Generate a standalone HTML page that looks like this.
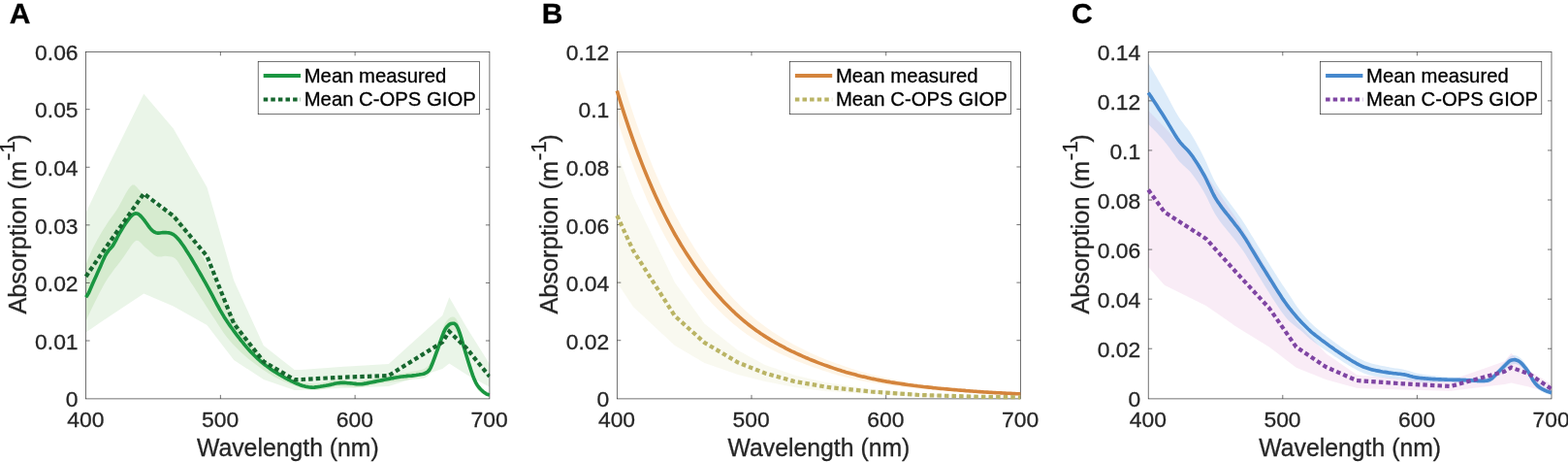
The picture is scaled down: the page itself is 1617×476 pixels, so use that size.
<!DOCTYPE html>
<html lang="en">
<head>
<meta charset="utf-8">
<title>Absorption spectra</title>
<style>
html,body{margin:0;padding:0;background:#fff;}
body{width:1617px;height:476px;overflow:hidden;}
svg{display:block;}
text{font-family:"Liberation Sans","DejaVu Sans",sans-serif;}
.t{font-size:22.9px;fill:#262626;stroke:#262626;stroke-width:0.3px;}
.l{font-size:24.8px;fill:#262626;stroke:#262626;stroke-width:0.3px;}
.s{font-size:22px;}
.g{font-size:20.3px;fill:#000;stroke:#000;stroke-width:0.3px;}
.p{font-size:30px;font-weight:bold;fill:#000;stroke:#000;stroke-width:0.3px;}
</style>
</head>
<body>
<svg width="1617" height="476" viewBox="0 0 1617 476">
<rect width="1617" height="476" fill="#fff"/>
<defs>
<clipPath id="cp0"><rect x="88.6" y="53.4" width="416.30" height="357.5"/></clipPath>
<clipPath id="cl0"><rect x="82.6" y="47.4" width="422.70" height="369.5"/></clipPath>
<clipPath id="cp1"><rect x="636.3" y="53.4" width="416.10" height="357.5"/></clipPath>
<clipPath id="cl1"><rect x="630.3" y="47.4" width="422.50" height="369.5"/></clipPath>
<clipPath id="cp2"><rect x="1184.2" y="53.4" width="415.80" height="357.5"/></clipPath>
<clipPath id="cl2"><rect x="1178.2" y="47.4" width="422.20" height="369.5"/></clipPath>
</defs>
<g><g clip-path="url(#cp0)"><polygon points="88.6,219 105.3,184 148.3,96.8 178.8,132.5 213.5,193 241.2,289 271.8,356 303.7,381 310.6,381 350.9,378 400.8,375 456.3,325 463.3,306.2 481.3,337.5 504.9,375 504.9,398.8 481.3,386 463.3,374.5 456.3,380 400.8,398 350.9,400 310.6,402 303.7,402 271.8,391 241.2,371 213.5,335 178.8,315.5 148.3,302.5 105.3,331 88.6,342.5" fill="rgba(150,205,140,0.2)"/>
<polygon points="88.5,273 90.5,267.8 92.5,262.9 94.5,258.3 96.5,254.2 98.5,250.4 100.5,246.7 102.5,243.2 104.5,239.8 106.5,236.6 108.5,233.4 110.5,230.3 112.5,227.3 114.5,224.4 116.5,221.7 118.5,218.9 120.5,216 122.5,212.7 124.5,209 126.5,205.2 128.5,201.6 130.5,198.1 132.5,194.8 134.5,192.2 136.5,190.6 138.5,190.6 140.5,192.2 142.5,194.4 144.5,196.8 146.5,199.4 148.5,201.9 150.5,204 152.5,205.7 154.5,207.2 156.5,208.6 158.5,210 160.5,211.2 162.5,212.5 164.5,213.7 166.5,214.8 168.5,215.7 170.5,216.5 172.5,217.1 174.5,217.8 176.5,218.7 178.5,219.7 180.5,221 182.5,222.7 184.5,224.8 186.5,227.2 188.5,229.9 190.5,232.8 192.5,235.9 194.5,239.2 196.5,242.5 198.5,245.9 200.5,249.3 202.5,252.7 204.5,256.2 206.5,259.8 208.5,263.4 210.5,267.2 212.5,271 214.5,275 216.5,279.1 218.5,283.3 220.5,287.5 222.5,291.8 224.5,296 226.5,300 228.5,304 230.5,307.8 232.5,311.5 234.5,315.1 236.5,318.7 238.5,322.2 240.5,325.7 242.5,329.1 244.5,332.5 246.5,335.9 248.5,339.2 250.5,342.4 252.5,345.5 254.5,348.5 256.5,351.4 258.5,354.2 260.5,356.9 262.5,359.4 264.5,361.8 266.5,364 268.5,366.1 270.5,368.1 272.5,369.9 274.5,371.7 276.5,373.3 278.5,374.9 280.5,376.5 282.5,378 284.5,379.5 286.5,380.9 288.5,382.3 290.5,383.6 292.5,384.9 294.5,386.1 296.5,387.2 298.5,388.3 300.5,389.2 302.5,390.2 304.5,391 306.5,391.8 308.5,392.5 310.5,393.2 312.5,393.8 314.5,394.3 316.5,394.7 318.5,395 320.5,395.3 322.5,395.4 324.5,395.5 326.5,395.5 328.5,395.3 330.5,395 332.5,394.6 334.5,394.1 336.5,393.6 338.5,393 340.5,392.5 342.5,392 344.5,391.6 346.5,391.3 348.5,391.1 350.5,391 352.5,391.1 354.5,391.3 356.5,391.5 358.5,391.9 360.5,392.2 362.5,392.5 364.5,392.7 366.5,392.8 368.5,392.7 370.5,392.4 372.5,392.1 374.5,391.7 376.5,391.4 378.5,391 380.5,390.6 382.5,390.2 384.5,389.9 386.5,389.5 388.5,389.1 390.5,388.7 392.5,388.3 394.5,388 396.5,387.6 398.5,387.2 400.5,386.9 402.5,386.6 404.5,386.3 406.5,386 408.5,385.6 410.5,385.3 412.5,385 414.5,384.7 416.5,384.4 418.5,384 420.5,383.7 422.5,383.4 424.5,383.1 426.5,382.7 428.5,382.4 430.5,382 432.5,381.5 434.5,381.1 436.5,380.6 438.5,379.6 440.5,378 442.5,375.6 444.5,371.7 446.5,366.7 448.5,361.3 450.5,355.8 452.5,350.2 454.5,344.5 456.5,338.9 458.5,334 460.5,330.8 462.5,328.5 464.5,327 466.5,326.5 468.5,326.7 470.5,328.5 472.5,332.5 474.5,338.1 476.5,344.8 478.5,351.9 480.5,358.9 482.5,365.7 484.5,372.2 486.5,378.5 488.5,384.4 490.5,389.5 492.5,393.4 494.5,396.5 496.5,399 498.5,401.2 500.5,402.9 502.5,404.2 504.5,404.9 504.8,405 504.8,409 504.5,409 502.5,408.5 500.5,407.6 498.5,406.4 496.5,405 494.5,403.4 492.5,401.4 490.5,398.6 488.5,394.5 486.5,389.4 484.5,383.7 482.5,377.5 480.5,371.1 478.5,364.3 476.5,357.6 474.5,351.2 472.5,345.9 470.5,342 468.5,340.3 466.5,340 464.5,340.3 462.5,341.5 460.5,343.6 458.5,346.6 456.5,351.3 454.5,356.8 452.5,362.4 450.5,367.8 448.5,373.1 446.5,378.2 444.5,382.9 442.5,386 440.5,387.7 438.5,388.9 436.5,389.7 434.5,390.1 432.5,390.2 430.5,390.4 428.5,390.6 426.5,390.8 424.5,391.1 422.5,391.3 420.5,391.5 418.5,391.8 416.5,392 414.5,392.2 412.5,392.5 410.5,392.7 408.5,393 406.5,393.2 404.5,393.4 402.5,393.7 400.5,393.9 398.5,394.2 396.5,394.5 394.5,394.8 392.5,395.1 390.5,395.5 388.5,395.8 386.5,396.2 384.5,396.6 382.5,397 380.5,397.3 378.5,397.7 376.5,398 374.5,398.4 372.5,398.7 370.5,398.9 368.5,399.1 366.5,399.2 364.5,399.2 362.5,399 360.5,398.8 358.5,398.6 356.5,398.4 354.5,398.2 352.5,398 350.5,398 348.5,398.1 346.5,398.3 344.5,398.6 342.5,399 340.5,399.5 338.5,399.9 336.5,400.4 334.5,400.9 332.5,401.3 330.5,401.6 328.5,401.9 326.5,402 324.5,402 322.5,401.8 320.5,401.6 318.5,401.3 316.5,401 314.5,400.6 312.5,400.1 310.5,399.5 308.5,399 306.5,398.3 304.5,397.6 302.5,396.9 300.5,396.2 298.5,395.4 296.5,394.6 294.5,393.8 292.5,393 290.5,392.1 288.5,391.1 286.5,390.1 284.5,389.1 282.5,388 280.5,386.8 278.5,385.6 276.5,384.4 274.5,383.1 272.5,381.8 270.5,380.4 268.5,379 266.5,377.6 264.5,376.1 262.5,374.6 260.5,373.1 258.5,371.5 256.5,369.9 254.5,368.2 252.5,366.5 250.5,364.7 248.5,362.9 246.5,361 244.5,359 242.5,357 240.5,354.9 238.5,352.7 236.5,350.4 234.5,348 232.5,345.4 230.5,342.7 228.5,339.8 226.5,336.7 224.5,333.7 222.5,330.6 220.5,327.6 218.5,324.5 216.5,321.4 214.5,318.3 212.5,315.2 210.5,312.1 208.5,309 206.5,305.9 204.5,302.8 202.5,299.7 200.5,296.6 198.5,293.5 196.5,290.4 194.5,287.3 192.5,284.2 190.5,281 188.5,277.8 186.5,274.5 184.5,271.3 182.5,268.3 180.5,266.2 178.5,265.1 176.5,264.5 174.5,264.3 172.5,263.9 170.5,263.8 168.5,264.1 166.5,264.4 164.5,264.6 162.5,264.5 160.5,263.8 158.5,262.4 156.5,260.8 154.5,259 152.5,257.1 150.5,255.4 148.5,253.7 146.5,251.5 144.5,249.5 142.5,248.1 140.5,247.8 138.5,249.3 136.5,251.6 134.5,254.2 132.5,257.2 130.5,260.2 128.5,263.2 126.5,266.1 124.5,268.8 122.5,271.4 120.5,274 118.5,276.6 116.5,279.2 114.5,281.9 112.5,284.7 110.5,287.7 108.5,291.1 106.5,294.6 104.5,298.3 102.5,302.1 100.5,306 98.5,309.9 96.5,313.9 94.5,318.1 92.5,322.3 90.5,326.6 88.5,331" fill="rgba(134,195,112,0.2)"/></g>
<rect x="88.6" y="53.4" width="416.30" height="357.5" fill="none" stroke="#262626" stroke-width="0.65"/>
<text transform="translate(80.60 419.40) scale(1 0.99)" text-anchor="end" class="t">0</text>
<text transform="translate(80.60 359.82) scale(1 0.99)" text-anchor="end" class="t">0.01</text>
<text transform="translate(80.60 300.23) scale(1 0.99)" text-anchor="end" class="t">0.02</text>
<text transform="translate(80.60 240.65) scale(1 0.99)" text-anchor="end" class="t">0.03</text>
<text transform="translate(80.60 181.07) scale(1 0.99)" text-anchor="end" class="t">0.04</text>
<text transform="translate(80.60 121.48) scale(1 0.99)" text-anchor="end" class="t">0.05</text>
<text transform="translate(80.60 61.90) scale(1 0.99)" text-anchor="end" class="t">0.06</text>
<path d="M227.37 410.9v-4.0M227.37 53.4v4.0M366.13 410.9v-4.0M366.13 53.4v4.0M88.6 351.02h4.0M504.9 351.02h-4.0M88.6 291.43h4.0M504.9 291.43h-4.0M88.6 231.85h4.0M504.9 231.85h-4.0M88.6 172.27h4.0M504.9 172.27h-4.0M88.6 112.68h4.0M504.9 112.68h-4.0" stroke="#262626" stroke-width="0.65" fill="none"/>
<g clip-path="url(#cl0)"><path d="M88.6 306.2L90.1 304.1L91.6 301.5L93.1 298.1L94.6 294.5L96.1 291L97.6 287.7L99.1 284.4L100.6 281.1L102.1 277.8L103.6 274.4L105.1 270.9L106.6 267.4L108.1 264.2L109.6 261.5L111.1 259.4L112.6 257.3L114.1 255.7L115.6 254.1L117.1 251.9L118.6 249.2L120.1 246.3L121.6 243.3L123.1 240.5L124.6 238L126.1 235.5L127.6 233.1L129.1 230.7L130.6 228.6L132.1 226.6L133.6 224.7L135.1 222.9L136.6 221.5L138.1 220.4L139.6 219.9L141.1 220L142.6 220.5L144.1 221.6L145.6 223.1L147.1 224.8L148.6 226.6L150.1 228.7L151.6 230.8L153.1 232.9L154.6 234.9L156.1 236.6L157.6 238L159.1 239L160.6 239.7L162.1 240.1L163.6 240.1L165.1 240L166.6 239.8L168.1 239.6L169.6 239.5L171.1 239.6L172.6 239.7L174.1 239.9L175.6 240.2L177.1 240.8L178.6 241.5L180.1 242.6L181.6 243.9L183.1 245.5L184.6 247.2L186.1 249.1L187.6 251.2L189.1 253.3L190.6 255.6L192.1 257.9L193.6 260.2L195.1 262.6L196.6 265L198.1 267.5L199.6 270.1L201.1 272.6L202.6 275.2L204.1 277.8L205.6 280.4L207.1 283L208.6 285.6L210.1 288.3L211.6 290.9L213.1 293.6L214.6 296.3L216.1 299.1L217.6 301.9L219.1 304.7L220.6 307.6L222.1 310.5L223.6 313.3L225.1 316L226.6 318.8L228.1 321.4L229.6 323.9L231.1 326.4L232.6 328.7L234.1 331L235.6 333.2L237.1 335.4L238.6 337.5L240.1 339.5L241.6 341.6L243.1 343.6L244.6 345.6L246.1 347.5L247.6 349.5L249.1 351.4L250.6 353.2L252.1 355.1L253.6 356.8L255.1 358.6L256.6 360.3L258.1 361.9L259.6 363.5L261.1 365L262.6 366.5L264.1 367.9L265.6 369.3L267.1 370.7L268.6 372L270.1 373.3L271.6 374.5L273.1 375.7L274.6 376.9L276.1 378L277.6 379.1L279.1 380.2L280.6 381.2L282.1 382.2L283.6 383.1L285.1 384.1L286.6 385L288.1 385.9L289.6 386.8L291.1 387.7L292.6 388.5L294.1 389.4L295.6 390.2L297.1 391L298.6 391.7L300.1 392.5L301.6 393.2L303.1 393.9L304.6 394.6L306.1 395.2L307.6 395.8L309.1 396.4L310.6 396.9L312.1 397.4L313.6 397.8L315.1 398.2L316.6 398.5L318.1 398.8L319.6 399L321.1 399.1L322.6 399.2L324.1 399.1L325.6 398.9L327.1 398.7L328.6 398.5L330.1 398.3L331.6 398L333.1 397.8L334.6 397.5L336.1 397.3L337.6 397L339.1 396.7L340.6 396.4L342.1 396L343.6 395.7L345.1 395.3L346.6 395L348.1 394.8L349.6 394.6L351.1 394.4L352.6 394.4L354.1 394.4L355.6 394.4L357.1 394.5L358.6 394.7L360.1 394.8L361.6 394.9L363.1 395L364.6 395.2L366.1 395.4L367.6 395.6L369.1 395.7L370.6 395.7L372.1 395.7L373.6 395.6L375.1 395.4L376.6 395.1L378.1 394.9L379.6 394.6L381.1 394.3L382.6 394L384.1 393.7L385.6 393.4L387.1 393.1L388.6 392.8L390.1 392.5L391.6 392.2L393.1 391.9L394.6 391.6L396.1 391.3L397.6 391L399.1 390.7L400.6 390.4L402.1 390.1L403.6 389.8L405.1 389.6L406.6 389.3L408.1 389L409.6 388.7L411.1 388.5L412.6 388.2L414.1 388L415.6 387.9L417.1 387.7L418.6 387.6L420.1 387.4L421.6 387.3L423.1 387.2L424.6 387.1L426.1 386.9L427.6 386.7L429.1 386.5L430.6 386.2L432.1 386L433.6 385.7L435.1 385.5L436.6 385.2L438.1 384.7L439.6 383.9L441.1 382.9L442.6 381.4L444.1 378.8L445.6 375.3L447.1 371.3L448.6 367.3L450.1 363.2L451.6 359.1L453.1 354.9L454.6 350.6L456.1 346.4L457.6 342.4L459.1 339.3L460.6 337.1L462.1 335.5L463.6 334.2L465.1 333.5L466.6 333.2L468.1 333.2L469.6 334L471.1 335.9L472.6 339.1L474.1 343.1L475.6 347.8L477.1 352.9L478.6 358.1L480.1 363.3L481.6 368.3L483.1 373.2L484.6 377.9L486.1 382.5L487.6 386.8L489.1 390.8L490.6 394.1L492.1 396.7L493.6 398.8L495.1 400.5L496.6 402L498.1 403.4L499.6 404.6L501.1 405.6L502.6 406.3L504.1 406.8L504.9 407" fill="none" stroke="#1a9641" stroke-width="3.65" stroke-linejoin="round"/>
<path d="M88.6 285L105.3 260.5L148.3 199.5L178.8 222.5L213.5 264L241.2 333.5L271.8 372.5L303.7 391.2L310.6 391L350.9 388.8L400.8 387L456.3 352.5L463.3 341.5L481.3 359L504.9 388" fill="none" stroke="#17672f" stroke-width="4.2" stroke-dasharray="4.5 3.1" stroke-linejoin="miter"/></g>
<text transform="translate(88.30 439.7) scale(1 0.99)" text-anchor="middle" class="t">400</text>
<text transform="translate(227.07 439.7) scale(1 0.99)" text-anchor="middle" class="t">500</text>
<text transform="translate(365.83 439.7) scale(1 0.99)" text-anchor="middle" class="t">600</text>
<text transform="translate(504.60 439.7) scale(1 0.99)" text-anchor="middle" class="t">700</text>
<text transform="translate(296.85 470.0) scale(1 1.07)" text-anchor="middle" class="l">Wavelength (nm)</text>
<text transform="translate(27.00 323.6) rotate(-90) scale(1.022 1.04)" class="l">Absorption (m<tspan class="s" dy="-11.6" dx="0.6">-<tspan dx="0.2">1</tspan></tspan><tspan dy="11.6" dx="-1.6">)</tspan></text>
<text x="9.7" y="24.1" class="p">A</text>
<rect x="266.2" y="63.3" width="228.2" height="54.4" fill="#fff" stroke="#262626" stroke-width="0.65"/>
<path d="M271.7 78H310.0" stroke="#1a9641" stroke-width="3.8" fill="none"/>
<path d="M271.7 102.5H310.0" stroke="#17672f" stroke-width="4.2" stroke-dasharray="4.5 3.1" fill="none"/>
<text transform="translate(313.70 84.6) scale(1 1.03)" class="g">Mean measured</text>
<text transform="translate(313.70 109.3) scale(1 1.03)" class="g">Mean C-OPS GIOP</text></g>
<g><g clip-path="url(#cp1)"><polygon points="636.3,157 652.9,202 695.9,291 726.5,333.5 761.1,361 788.9,376 819.4,386.5 851.3,394 858.2,395 898.4,401 948.4,405.5 1003.9,408 1010.8,408.2 1028.8,408.5 1052.4,408.8 1052.4,409.8 1028.8,409.6 1010.8,409.4 1003.9,409.3 948.4,408.5 898.4,406 858.2,403.5 851.3,403 819.4,399 788.9,393 761.1,386 726.5,374 695.9,356 652.9,316 636.3,291" fill="rgba(190,190,90,0.09)"/>
<polygon points="636.5,63.3 638.5,70.4 640.5,77.2 642.5,84 644.5,90.6 646.5,97 648.5,103.3 650.5,109.5 652.5,115.6 654.5,121.5 656.5,127.4 658.5,133.1 660.5,138.7 662.5,144.1 664.5,149.5 666.5,154.8 668.5,159.9 670.5,164.9 672.5,169.9 674.5,174.7 676.5,179.4 678.5,184.1 680.5,188.6 682.5,193.1 684.5,197.4 686.5,201.7 688.5,205.9 690.5,210 692.5,214 694.5,217.9 696.5,221.7 698.5,225.4 700.5,229.1 702.5,232.7 704.5,236.2 706.5,239.6 708.5,243 710.5,246.3 712.5,249.6 714.5,252.8 716.5,255.9 718.5,259 720.5,262.1 722.5,265.1 724.5,268 726.5,270.9 728.5,273.7 730.5,276.5 732.5,279.2 734.5,281.9 736.5,284.5 738.5,287.1 740.5,289.6 742.5,292 744.5,294.4 746.5,296.8 748.5,299.1 750.5,301.4 752.5,303.6 754.5,305.8 756.5,307.9 758.5,310 760.5,312 762.5,314 764.5,316 766.5,317.9 768.5,319.8 770.5,321.6 772.5,323.4 774.5,325.1 776.5,326.8 778.5,328.4 780.5,330 782.5,331.6 784.5,333.1 786.5,334.6 788.5,336.1 790.5,337.6 792.5,339 794.5,340.3 796.5,341.7 798.5,343 800.5,344.3 802.5,345.6 804.5,346.8 806.5,348.1 808.5,349.3 810.5,350.4 812.5,351.6 814.5,352.7 816.5,353.8 818.5,354.9 820.5,356 822.5,357 824.5,358.1 826.5,359.1 828.5,360.1 830.5,361 832.5,362 834.5,363 836.5,363.9 838.5,364.8 840.5,365.7 842.5,366.6 844.5,367.4 846.5,368.3 848.5,369.1 850.5,369.9 852.5,370.7 854.5,371.4 856.5,372.2 858.5,372.9 860.5,373.7 862.5,374.4 864.5,375.1 866.5,375.8 868.5,376.5 870.5,377.2 872.5,377.9 874.5,378.6 876.5,379.2 878.5,379.9 880.5,380.5 882.5,381.2 884.5,381.8 886.5,382.4 888.5,383 890.5,383.6 892.5,384.1 894.5,384.7 896.5,385.2 898.5,385.8 900.5,386.3 902.5,386.8 904.5,387.3 906.5,387.7 908.5,388.2 910.5,388.6 912.5,389.1 914.5,389.5 916.5,389.9 918.5,390.3 920.5,390.7 922.5,391.1 924.5,391.5 926.5,391.9 928.5,392.2 930.5,392.6 932.5,392.9 934.5,393.3 936.5,393.6 938.5,393.9 940.5,394.2 942.5,394.5 944.5,394.8 946.5,395.1 948.5,395.4 950.5,395.7 952.5,396 954.5,396.3 956.5,396.5 958.5,396.8 960.5,397 962.5,397.3 964.5,397.5 966.5,397.8 968.5,398 970.5,398.2 972.5,398.5 974.5,398.7 976.5,398.9 978.5,399.1 980.5,399.4 982.5,399.6 984.5,399.8 986.5,400 988.5,400.2 990.5,400.4 992.5,400.6 994.5,400.7 996.5,400.9 998.5,401.1 1000.5,401.3 1002.5,401.5 1004.5,401.6 1006.5,401.8 1008.5,402 1010.5,402.1 1012.5,402.3 1014.5,402.4 1016.5,402.6 1018.5,402.7 1020.5,402.9 1022.5,403 1024.5,403.2 1026.5,403.3 1028.5,403.4 1030.5,403.6 1032.5,403.7 1034.5,403.8 1036.5,404 1038.5,404.1 1040.5,404.2 1042.5,404.3 1044.5,404.4 1046.5,404.6 1048.5,404.7 1050.5,404.8 1052.5,404.9 1052.6,404.9 1052.6,406.9 1052.5,406.9 1050.5,406.8 1048.5,406.8 1046.5,406.7 1044.5,406.6 1042.5,406.5 1040.5,406.4 1038.5,406.4 1036.5,406.3 1034.5,406.2 1032.5,406.1 1030.5,406 1028.5,405.9 1026.5,405.8 1024.5,405.7 1022.5,405.7 1020.5,405.6 1018.5,405.5 1016.5,405.4 1014.5,405.3 1012.5,405.2 1010.5,405.1 1008.5,404.9 1006.5,404.8 1004.5,404.7 1002.5,404.6 1000.5,404.5 998.5,404.4 996.5,404.3 994.5,404.1 992.5,404 990.5,403.9 988.5,403.7 986.5,403.6 984.5,403.5 982.5,403.3 980.5,403.2 978.5,403.1 976.5,402.9 974.5,402.8 972.5,402.6 970.5,402.5 968.5,402.3 966.5,402.2 964.5,402 962.5,401.8 960.5,401.7 958.5,401.5 956.5,401.3 954.5,401.1 952.5,401 950.5,400.8 948.5,400.6 946.5,400.4 944.5,400.2 942.5,400 940.5,399.8 938.5,399.6 936.5,399.4 934.5,399.1 932.5,398.9 930.5,398.7 928.5,398.4 926.5,398.2 924.5,398 922.5,397.7 920.5,397.5 918.5,397.2 916.5,396.9 914.5,396.6 912.5,396.4 910.5,396.1 908.5,395.8 906.5,395.5 904.5,395.1 902.5,394.8 900.5,394.5 898.5,394.1 896.5,393.8 894.5,393.4 892.5,393.1 890.5,392.7 888.5,392.3 886.5,391.9 884.5,391.5 882.5,391.1 880.5,390.7 878.5,390.2 876.5,389.8 874.5,389.3 872.5,388.8 870.5,388.3 868.5,387.8 866.5,387.2 864.5,386.7 862.5,386.1 860.5,385.5 858.5,384.9 856.5,384.3 854.5,383.6 852.5,383 850.5,382.3 848.5,381.7 846.5,381 844.5,380.3 842.5,379.6 840.5,378.9 838.5,378.2 836.5,377.5 834.5,376.8 832.5,376 830.5,375.3 828.5,374.5 826.5,373.8 824.5,373 822.5,372.2 820.5,371.4 818.5,370.6 816.5,369.7 814.5,368.9 812.5,368 810.5,367.1 808.5,366.2 806.5,365.3 804.5,364.4 802.5,363.4 800.5,362.4 798.5,361.4 796.5,360.4 794.5,359.4 792.5,358.3 790.5,357.2 788.5,356.1 786.5,354.9 784.5,353.8 782.5,352.6 780.5,351.3 778.5,350.1 776.5,348.8 774.5,347.5 772.5,346.1 770.5,344.7 768.5,343.3 766.5,341.8 764.5,340.3 762.5,338.7 760.5,337.1 758.5,335.5 756.5,333.9 754.5,332.2 752.5,330.4 750.5,328.6 748.5,326.8 746.5,325 744.5,323.1 742.5,321.1 740.5,319.2 738.5,317.1 736.5,315 734.5,312.9 732.5,310.7 730.5,308.5 728.5,306.2 726.5,303.9 724.5,301.5 722.5,299.1 720.5,296.6 718.5,294 716.5,291.4 714.5,288.8 712.5,286.1 710.5,283.3 708.5,280.5 706.5,277.6 704.5,274.7 702.5,271.7 700.5,268.6 698.5,265.4 696.5,262.2 694.5,258.9 692.5,255.5 690.5,252 688.5,248.5 686.5,244.9 684.5,241.2 682.5,237.4 680.5,233.5 678.5,229.5 676.5,225.4 674.5,221.3 672.5,217.1 670.5,212.8 668.5,208.4 666.5,203.9 664.5,199.3 662.5,194.6 660.5,189.8 658.5,184.9 656.5,179.9 654.5,174.8 652.5,169.6 650.5,164.3 648.5,158.8 646.5,153.3 644.5,147.6 642.5,141.8 640.5,135.9 638.5,129.8 636.5,123.7" fill="rgba(248,188,95,0.15)"/></g>
<rect x="636.3" y="53.4" width="416.10" height="357.5" fill="none" stroke="#262626" stroke-width="0.65"/>
<text transform="translate(628.30 419.40) scale(1 0.99)" text-anchor="end" class="t">0</text>
<text transform="translate(628.30 359.82) scale(1 0.99)" text-anchor="end" class="t">0.02</text>
<text transform="translate(628.30 300.23) scale(1 0.99)" text-anchor="end" class="t">0.04</text>
<text transform="translate(628.30 240.65) scale(1 0.99)" text-anchor="end" class="t">0.06</text>
<text transform="translate(628.30 181.07) scale(1 0.99)" text-anchor="end" class="t">0.08</text>
<text transform="translate(628.30 121.48) scale(1 0.99)" text-anchor="end" class="t">0.1</text>
<text transform="translate(628.30 61.90) scale(1 0.99)" text-anchor="end" class="t">0.12</text>
<path d="M775.00 410.9v-4.0M775.00 53.4v4.0M913.70 410.9v-4.0M913.70 53.4v4.0M636.3 350.72h4.0M1052.4 350.72h-4.0M636.3 291.13h4.0M1052.4 291.13h-4.0M636.3 231.55h4.0M1052.4 231.55h-4.0M636.3 171.97h4.0M1052.4 171.97h-4.0M636.3 112.38h4.0M1052.4 112.38h-4.0" stroke="#262626" stroke-width="0.65" fill="none"/>
<g clip-path="url(#cl1)"><path d="M636.3 93.5L638.3 100.1L640.3 106.6L642.3 112.9L644.3 119.1L646.3 125.1L648.3 131.1L650.3 136.9L652.3 142.6L654.3 148.2L656.3 153.6L658.3 159L660.3 164.2L662.3 169.4L664.3 174.4L666.3 179.3L668.3 184.1L670.3 188.8L672.3 193.5L674.3 198L676.3 202.4L678.3 206.8L680.3 211L682.3 215.2L684.3 219.3L686.3 223.3L688.3 227.2L690.3 231L692.3 234.7L694.3 238.4L696.3 242L698.3 245.4L700.3 248.8L702.3 252.2L704.3 255.4L706.3 258.6L708.3 261.7L710.3 264.8L712.3 267.8L714.3 270.8L716.3 273.7L718.3 276.5L720.3 279.3L722.3 282.1L724.3 284.7L726.3 287.4L728.3 290L730.3 292.5L732.3 295L734.3 297.4L736.3 299.8L738.3 302.1L740.3 304.4L742.3 306.6L744.3 308.8L746.3 310.9L748.3 313L750.3 315L752.3 317L754.3 319L756.3 320.9L758.3 322.8L760.3 324.6L762.3 326.4L764.3 328.1L766.3 329.8L768.3 331.5L770.3 333.1L772.3 334.7L774.3 336.3L776.3 337.8L778.3 339.2L780.3 340.7L782.3 342.1L784.3 343.5L786.3 344.8L788.3 346.1L790.3 347.4L792.3 348.6L794.3 349.9L796.3 351.1L798.3 352.2L800.3 353.4L802.3 354.5L804.3 355.6L806.3 356.7L808.3 357.7L810.3 358.8L812.3 359.8L814.3 360.8L816.3 361.8L818.3 362.7L820.3 363.7L822.3 364.6L824.3 365.5L826.3 366.4L828.3 367.3L830.3 368.2L832.3 369L834.3 369.9L836.3 370.7L838.3 371.5L840.3 372.3L842.3 373.1L844.3 373.9L846.3 374.6L848.3 375.4L850.3 376.1L852.3 376.8L854.3 377.5L856.3 378.2L858.3 378.9L860.3 379.6L862.3 380.3L864.3 380.9L866.3 381.5L868.3 382.2L870.3 382.8L872.3 383.4L874.3 383.9L876.3 384.5L878.3 385.1L880.3 385.6L882.3 386.1L884.3 386.7L886.3 387.2L888.3 387.7L890.3 388.1L892.3 388.6L894.3 389.1L896.3 389.5L898.3 390L900.3 390.4L902.3 390.8L904.3 391.2L906.3 391.6L908.3 392L910.3 392.4L912.3 392.7L914.3 393.1L916.3 393.4L918.3 393.8L920.3 394.1L922.3 394.4L924.3 394.7L926.3 395L928.3 395.3L930.3 395.6L932.3 395.9L934.3 396.2L936.3 396.5L938.3 396.7L940.3 397L942.3 397.3L944.3 397.5L946.3 397.8L948.3 398L950.3 398.2L952.3 398.5L954.3 398.7L956.3 398.9L958.3 399.1L960.3 399.3L962.3 399.6L964.3 399.8L966.3 400L968.3 400.2L970.3 400.4L972.3 400.5L974.3 400.7L976.3 400.9L978.3 401.1L980.3 401.3L982.3 401.5L984.3 401.6L986.3 401.8L988.3 402L990.3 402.1L992.3 402.3L994.3 402.4L996.3 402.6L998.3 402.7L1000.3 402.9L1002.3 403L1004.3 403.2L1006.3 403.3L1008.3 403.5L1010.3 403.6L1012.3 403.7L1014.3 403.9L1016.3 404L1018.3 404.1L1020.3 404.2L1022.3 404.3L1024.3 404.5L1026.3 404.6L1028.3 404.7L1030.3 404.8L1032.3 404.9L1034.3 405L1036.3 405.1L1038.3 405.2L1040.3 405.3L1042.3 405.4L1044.3 405.5L1046.3 405.6L1048.3 405.7L1050.3 405.8L1052.3 405.9L1052.4 405.9" fill="none" stroke="#d4843c" stroke-width="3.65" stroke-linejoin="round"/>
<path d="M636.3 222L652.9 258L695.9 325.5L726.5 353L761.1 373.5L788.9 384.5L819.4 393L851.3 398.5L858.2 399.5L898.4 403.5L948.4 407L1003.9 408.6L1010.8 408.8L1028.8 409L1052.4 409.3" fill="none" stroke="#bab465" stroke-width="4.2" stroke-dasharray="4.5 3.1" stroke-linejoin="miter"/></g>
<text transform="translate(636.00 439.7) scale(1 0.99)" text-anchor="middle" class="t">400</text>
<text transform="translate(774.70 439.7) scale(1 0.99)" text-anchor="middle" class="t">500</text>
<text transform="translate(913.40 439.7) scale(1 0.99)" text-anchor="middle" class="t">600</text>
<text transform="translate(1052.10 439.7) scale(1 0.99)" text-anchor="middle" class="t">700</text>
<text transform="translate(844.45 470.0) scale(1 1.07)" text-anchor="middle" class="l">Wavelength (nm)</text>
<text transform="translate(574.70 323.6) rotate(-90) scale(1.022 1.04)" class="l">Absorption (m<tspan class="s" dy="-11.6" dx="0.6">-<tspan dx="0.2">1</tspan></tspan><tspan dy="11.6" dx="-1.6">)</tspan></text>
<text x="558.7" y="24.1" class="p">B</text>
<rect x="814.4" y="63.3" width="228.2" height="54.4" fill="#fff" stroke="#262626" stroke-width="0.65"/>
<path d="M819.9 78H858.2" stroke="#d4843c" stroke-width="3.8" fill="none"/>
<path d="M819.9 102.5H858.2" stroke="#bab465" stroke-width="4.2" stroke-dasharray="4.5 3.1" fill="none"/>
<text transform="translate(861.90 84.6) scale(1 1.03)" class="g">Mean measured</text>
<text transform="translate(861.90 109.3) scale(1 1.03)" class="g">Mean C-OPS GIOP</text></g>
<g><g clip-path="url(#cp2)"><polygon points="1184.2,114 1200.8,131 1243.8,180 1274.3,224 1308.9,281 1336.7,331 1367.2,364 1399,386 1406,387 1446.2,390 1496,391.7 1551.5,372.3 1558.4,363.8 1576.4,381.5 1600,396 1600,405.5 1576.4,398.5 1558.4,394.5 1551.5,396 1496,402.8 1446.2,401.5 1406,400.2 1399,399.8 1367.2,391 1336.7,378.8 1308.9,357.5 1274.3,336.2 1243.8,315 1200.8,293.8 1184.2,275" fill="rgba(200,90,180,0.115)"/>
<polygon points="1184.2,65 1185.7,67.5 1187.2,70 1188.7,72.6 1190.2,75.2 1191.7,77.7 1193.2,80.3 1194.7,82.9 1196.2,85.6 1197.7,88.2 1199.2,90.8 1200.7,93.5 1202.2,96.2 1203.7,99 1205.2,101.8 1206.7,104.6 1208.2,107.4 1209.7,110.2 1211.2,113 1212.7,115.7 1214.2,118.3 1215.7,120.8 1217.2,123 1218.7,125.1 1220.2,127.1 1221.7,129 1223.2,130.9 1224.7,132.8 1226.2,134.8 1227.7,137 1229.2,139.4 1230.7,142 1232.2,144.6 1233.7,147.2 1235.2,150 1236.7,152.8 1238.2,155.6 1239.7,158.5 1241.2,161.5 1242.7,164.5 1244.2,167.8 1245.7,171.2 1247.2,174.7 1248.7,178.2 1250.2,181.6 1251.7,184.7 1253.2,187.6 1254.7,190.2 1256.2,192.6 1257.7,194.9 1259.2,197.1 1260.7,199.2 1262.2,201.3 1263.7,203.3 1265.2,205.3 1266.7,207.3 1268.2,209.2 1269.7,211.2 1271.2,213.2 1272.7,215.3 1274.2,217.3 1275.7,219.3 1277.2,221.4 1278.7,223.5 1280.2,225.6 1281.7,227.9 1283.2,230.2 1284.7,232.5 1286.2,235 1287.7,237.4 1289.2,239.9 1290.7,242.4 1292.2,244.8 1293.7,247.3 1295.2,249.8 1296.7,252.3 1298.2,254.7 1299.7,257.1 1301.2,259.6 1302.7,262 1304.2,264.4 1305.7,266.8 1307.2,269.2 1308.7,271.6 1310.2,274 1311.7,276.4 1313.2,278.8 1314.7,281.2 1316.2,283.6 1317.7,285.9 1319.2,288.3 1320.7,290.6 1322.2,292.9 1323.7,295.1 1325.2,297.2 1326.7,299.5 1328.2,301.7 1329.7,304 1331.2,306.3 1332.7,308.6 1334.2,310.9 1335.7,313.2 1337.2,315.4 1338.7,317.5 1340.2,319.6 1341.7,321.5 1343.2,323.4 1344.7,325.1 1346.2,326.8 1347.7,328.5 1349.2,330.1 1350.7,331.7 1352.2,333.1 1353.7,334.6 1355.2,335.9 1356.7,337.2 1358.2,338.5 1359.7,339.7 1361.2,341 1362.7,342.2 1364.2,343.4 1365.7,344.6 1367.2,345.8 1368.7,346.9 1370.2,348.1 1371.7,349.2 1373.2,350.3 1374.7,351.5 1376.2,352.6 1377.7,353.7 1379.2,354.8 1380.7,355.8 1382.2,356.9 1383.7,357.9 1385.2,359 1386.7,360 1388.2,361 1389.7,362 1391.2,363 1392.7,364 1394.2,364.9 1395.7,365.9 1397.2,366.8 1398.7,367.6 1400.2,368.5 1401.7,369.3 1403.2,370.1 1404.7,370.8 1406.2,371.5 1407.7,372.2 1409.2,372.8 1410.7,373.3 1412.2,373.8 1413.7,374.2 1415.2,374.7 1416.7,375 1418.2,375.4 1419.7,375.8 1421.2,376.1 1422.7,376.4 1424.2,376.7 1425.7,377 1427.2,377.3 1428.7,377.6 1430.2,377.9 1431.7,378.1 1433.2,378.4 1434.7,378.7 1436.2,378.9 1437.7,379.2 1439.2,379.4 1440.7,379.6 1442.2,379.8 1443.7,380 1445.2,380.3 1446.7,380.5 1448.2,380.9 1449.7,381.2 1451.2,381.7 1452.7,382.1 1454.2,382.6 1455.7,383.1 1457.2,383.6 1458.7,384.1 1460.2,384.5 1461.7,384.8 1463.2,385.1 1464.7,385.3 1466.2,385.6 1467.7,385.8 1469.2,386 1470.7,386.2 1472.2,386.4 1473.7,386.5 1475.2,386.7 1476.7,386.9 1478.2,387 1479.7,387.2 1481.2,387.4 1482.7,387.5 1484.2,387.7 1485.7,387.8 1487.2,387.9 1488.7,388 1490.2,388.2 1491.7,388.3 1493.2,388.4 1494.7,388.5 1496.2,388.6 1497.7,388.6 1499.2,388.7 1500.7,388.8 1502.2,388.8 1503.7,388.9 1505.2,388.9 1506.7,389 1508.2,389 1509.7,389.1 1511.2,389.1 1512.7,389.2 1514.2,389.3 1515.7,389.3 1517.2,389.4 1518.7,389.5 1520.2,389.6 1521.7,389.7 1523.2,389.8 1524.7,389.8 1526.2,389.9 1527.7,389.9 1529.2,389.9 1530.7,389.9 1532.2,389.8 1533.7,389.6 1535.2,389.1 1536.7,388.3 1538.2,387.3 1539.7,385.9 1541.2,384.3 1542.7,382.7 1544.2,381 1545.7,379.4 1547.2,377.7 1548.7,376.1 1550.2,374.5 1551.7,372.9 1553.2,371.4 1554.7,369.8 1556.2,368.2 1557.7,367.2 1559.2,366.6 1560.7,366.2 1562.2,366.1 1563.7,366.4 1565.2,367 1566.7,367.9 1568.2,369.1 1569.7,370.6 1571.2,372.3 1572.7,374.2 1574.2,376.2 1575.7,378.3 1577.2,380.8 1578.7,383.6 1580.2,386.4 1581.7,389 1583.2,391.1 1584.7,392.9 1586.2,394.4 1587.7,395.6 1589.2,396.7 1590.7,397.7 1592.2,398.6 1593.7,399.4 1595.2,400.2 1596.7,400.8 1598.2,401.4 1599.7,401.9 1600.2,402 1600.2,407 1599.7,406.9 1598.2,406.7 1596.7,406.3 1595.2,405.9 1593.7,405.3 1592.2,404.7 1590.7,404 1589.2,403.3 1587.7,402.3 1586.2,401.2 1584.7,399.9 1583.2,398.3 1581.7,396.4 1580.2,393.9 1578.7,391.2 1577.2,388.6 1575.7,386.3 1574.2,384.2 1572.7,382.4 1571.2,380.6 1569.7,379.1 1568.2,377.7 1566.7,376.6 1565.2,375.8 1563.7,375.3 1562.2,375.1 1560.7,375.2 1559.2,375.5 1557.7,376.1 1556.2,377 1554.7,378.3 1553.2,379.7 1551.7,381.2 1550.2,382.6 1548.7,384 1547.2,385.4 1545.7,386.7 1544.2,388.1 1542.7,389.4 1541.2,390.8 1539.7,392.1 1538.2,393.1 1536.7,393.9 1535.2,394.5 1533.7,394.8 1532.2,394.9 1530.7,394.9 1529.2,394.9 1527.7,394.9 1526.2,394.9 1524.7,394.8 1523.2,394.8 1521.7,394.7 1520.2,394.6 1518.7,394.5 1517.2,394.4 1515.7,394.3 1514.2,394.3 1512.7,394.2 1511.2,394.1 1509.7,394.1 1508.2,394 1506.7,394 1505.2,394 1503.7,393.9 1502.2,393.9 1500.7,393.9 1499.2,393.9 1497.7,393.9 1496.2,393.9 1494.7,393.9 1493.2,393.9 1491.7,394 1490.2,394 1488.7,394 1487.2,394 1485.7,394 1484.2,394.1 1482.7,394.1 1481.2,394.1 1479.7,394.1 1478.2,394.1 1476.7,394 1475.2,394 1473.7,394 1472.2,393.9 1470.7,393.9 1469.2,393.8 1467.7,393.8 1466.2,393.7 1464.7,393.6 1463.2,393.6 1461.7,393.4 1460.2,393.2 1458.7,393 1457.2,392.7 1455.7,392.4 1454.2,392.1 1452.7,391.7 1451.2,391.4 1449.7,391.2 1448.2,390.9 1446.7,390.8 1445.2,390.7 1443.7,390.6 1442.2,390.5 1440.7,390.4 1439.2,390.3 1437.7,390.2 1436.2,390 1434.7,389.9 1433.2,389.7 1431.7,389.6 1430.2,389.4 1428.7,389.2 1427.2,389.1 1425.7,388.9 1424.2,388.6 1422.7,388.4 1421.2,388.2 1419.7,387.9 1418.2,387.7 1416.7,387.4 1415.2,387.1 1413.7,386.7 1412.2,386.4 1410.7,385.9 1409.2,385.5 1407.7,385 1406.2,384.4 1404.7,383.8 1403.2,383.1 1401.7,382.4 1400.2,381.7 1398.7,380.9 1397.2,380.1 1395.7,379.3 1394.2,378.4 1392.7,377.6 1391.2,376.7 1389.7,375.8 1388.2,374.8 1386.7,373.9 1385.2,373 1383.7,372 1382.2,371.1 1380.7,370.1 1379.2,369.1 1377.7,368.1 1376.2,367.2 1374.7,366.1 1373.2,365.1 1371.7,364.1 1370.2,363.1 1368.7,362.1 1367.2,361.1 1365.7,360 1364.2,359 1362.7,357.9 1361.2,356.9 1359.7,355.8 1358.2,354.7 1356.7,353.6 1355.2,352.5 1353.7,351.3 1352.2,350.1 1350.7,348.9 1349.2,347.6 1347.7,346.2 1346.2,344.8 1344.7,343.4 1343.2,342.1 1341.7,340.8 1340.2,339.6 1338.7,338.4 1337.2,337.2 1335.7,336.1 1334.2,334.8 1332.7,333.6 1331.2,332.3 1329.7,330.9 1328.2,329.4 1326.7,327.8 1325.2,326 1323.7,324.1 1322.2,322.1 1320.7,320 1319.2,317.8 1317.7,315.6 1316.2,313.3 1314.7,311 1313.2,308.7 1311.7,306.4 1310.2,304 1308.7,301.6 1307.2,299.2 1305.7,296.8 1304.2,294.4 1302.7,292 1301.2,289.6 1299.7,287.1 1298.2,284.7 1296.7,282.3 1295.2,279.8 1293.7,277.3 1292.2,274.8 1290.7,272.4 1289.2,269.9 1287.7,267.4 1286.2,265 1284.7,262.6 1283.2,260.3 1281.7,258.1 1280.2,255.9 1278.7,253.9 1277.2,251.9 1275.7,249.9 1274.2,248 1272.7,246.1 1271.2,244.2 1269.7,242.4 1268.2,240.5 1266.7,238.7 1265.2,236.9 1263.7,235.1 1262.2,233.3 1260.7,231.4 1259.2,229.4 1257.7,227.4 1256.2,225.3 1254.7,223.1 1253.2,220.7 1251.7,218.1 1250.2,215.2 1248.7,212.1 1247.2,209 1245.7,205.8 1244.2,202.8 1242.7,199.9 1241.2,197.2 1239.7,194.7 1238.2,192.3 1236.7,189.9 1235.2,187.6 1233.7,185.4 1232.2,183.2 1230.7,181.2 1229.2,179.2 1227.7,177.3 1226.2,175.7 1224.7,174.2 1223.2,172.9 1221.7,171.6 1220.2,170.2 1218.7,168.8 1217.2,167.3 1215.7,165.7 1214.2,163.8 1212.7,161.7 1211.2,159.6 1209.7,157.5 1208.2,155.4 1206.7,153.3 1205.2,151.3 1203.7,149.3 1202.2,147.4 1200.7,145.5 1199.2,143.7 1197.7,142 1196.2,140.4 1194.7,138.7 1193.2,137.1 1191.7,135.5 1190.2,134 1188.7,132.4 1187.2,130.9 1185.7,129.4 1184.2,128" fill="rgba(85,160,230,0.2)"/></g>
<rect x="1184.2" y="53.4" width="415.80" height="357.5" fill="none" stroke="#262626" stroke-width="0.65"/>
<text transform="translate(1176.20 419.40) scale(1 0.99)" text-anchor="end" class="t">0</text>
<text transform="translate(1176.20 368.33) scale(1 0.99)" text-anchor="end" class="t">0.02</text>
<text transform="translate(1176.20 317.26) scale(1 0.99)" text-anchor="end" class="t">0.04</text>
<text transform="translate(1176.20 266.19) scale(1 0.99)" text-anchor="end" class="t">0.06</text>
<text transform="translate(1176.20 215.11) scale(1 0.99)" text-anchor="end" class="t">0.08</text>
<text transform="translate(1176.20 164.04) scale(1 0.99)" text-anchor="end" class="t">0.1</text>
<text transform="translate(1176.20 112.97) scale(1 0.99)" text-anchor="end" class="t">0.12</text>
<text transform="translate(1176.20 61.90) scale(1 0.99)" text-anchor="end" class="t">0.14</text>
<path d="M1322.80 410.9v-4.0M1322.80 53.4v4.0M1461.40 410.9v-4.0M1461.40 53.4v4.0M1184.2 359.23h4.0M1600.0 359.23h-4.0M1184.2 308.16h4.0M1600.0 308.16h-4.0M1184.2 257.09h4.0M1600.0 257.09h-4.0M1184.2 206.01h4.0M1600.0 206.01h-4.0M1184.2 154.94h4.0M1600.0 154.94h-4.0M1184.2 103.87h4.0M1600.0 103.87h-4.0" stroke="#262626" stroke-width="0.65" fill="none"/>
<g clip-path="url(#cl2)"><path d="M1184.2 95.5L1185.7 97.7L1187.2 99.9L1188.7 102.2L1190.2 104.5L1191.7 106.8L1193.2 109.1L1194.7 111.4L1196.2 113.7L1197.7 116L1199.2 118.3L1200.7 120.7L1202.2 123.1L1203.7 125.6L1205.2 128.1L1206.7 130.6L1208.2 133.1L1209.7 135.6L1211.2 138.1L1212.7 140.5L1214.2 142.8L1215.7 144.9L1217.2 146.8L1218.7 148.6L1220.2 150.2L1221.7 151.7L1223.2 153.2L1224.7 154.8L1226.2 156.5L1227.7 158.3L1229.2 160.3L1230.7 162.4L1232.2 164.7L1233.7 167L1235.2 169.3L1236.7 171.8L1238.2 174.3L1239.7 176.9L1241.2 179.5L1242.7 182.2L1244.2 185.2L1245.7 188.4L1247.2 191.6L1248.7 194.8L1250.2 198L1251.7 201L1253.2 203.7L1254.7 206.1L1256.2 208.4L1257.7 210.5L1259.2 212.6L1260.7 214.7L1262.2 216.6L1263.7 218.5L1265.2 220.4L1266.7 222.2L1268.2 224.1L1269.7 226L1271.2 227.9L1272.7 229.8L1274.2 231.8L1275.7 233.7L1277.2 235.7L1278.7 237.7L1280.2 239.8L1281.7 242L1283.2 244.3L1284.7 246.6L1286.2 249L1287.7 251.4L1289.1 253.9L1290.6 256.4L1292.1 258.8L1293.6 261.3L1295.1 263.8L1296.6 266.3L1298.1 268.7L1299.6 271.1L1301.1 273.6L1302.6 276L1304.1 278.4L1305.6 280.8L1307.1 283.2L1308.6 285.6L1310.1 288L1311.6 290.4L1313.1 292.8L1314.6 295.2L1316.1 297.6L1317.6 299.9L1319.1 302.3L1320.6 304.6L1322.1 306.9L1323.6 309.1L1325.1 311.2L1326.6 313.3L1328.1 315.3L1329.6 317.3L1331.1 319.2L1332.6 321.1L1334.1 322.9L1335.6 324.7L1337.1 326.5L1338.6 328.2L1340.1 329.8L1341.6 331.4L1343.1 333L1344.6 334.5L1346.1 336L1347.6 337.5L1349.1 339L1350.6 340.4L1352.1 341.8L1353.6 343.1L1355.1 344.3L1356.6 345.5L1358.1 346.6L1359.6 347.8L1361.1 348.9L1362.6 350.1L1364.1 351.2L1365.6 352.3L1367.1 353.4L1368.6 354.5L1370.1 355.6L1371.6 356.7L1373.1 357.7L1374.6 358.8L1376.1 359.9L1377.6 360.9L1379.1 361.9L1380.6 363L1382.1 364L1383.6 365L1385.1 366L1386.6 367L1388.1 367.9L1389.6 368.9L1391.1 369.8L1392.6 370.8L1394.1 371.7L1395.6 372.6L1397.1 373.4L1398.6 374.3L1400.1 375.1L1401.6 375.9L1403.1 376.6L1404.6 377.3L1406.1 378L1407.6 378.6L1409.1 379.1L1410.6 379.6L1412.1 380.1L1413.6 380.5L1415.1 380.9L1416.6 381.2L1418.1 381.5L1419.6 381.9L1421.1 382.1L1422.6 382.4L1424.1 382.7L1425.6 383L1427.1 383.2L1428.6 383.4L1430.1 383.6L1431.6 383.9L1433.1 384.1L1434.6 384.3L1436.1 384.5L1437.6 384.7L1439.1 384.8L1440.6 385L1442.1 385.2L1443.6 385.3L1445.1 385.5L1446.6 385.7L1448.1 385.9L1449.6 386.2L1451.1 386.6L1452.6 386.9L1454.1 387.4L1455.6 387.8L1457.1 388.2L1458.6 388.5L1460.1 388.9L1461.6 389.1L1463.1 389.3L1464.6 389.5L1466.1 389.6L1467.6 389.8L1469.1 389.9L1470.6 390L1472.1 390.1L1473.6 390.3L1475.1 390.4L1476.6 390.5L1478.1 390.6L1479.6 390.6L1481.1 390.7L1482.6 390.8L1484.1 390.9L1485.6 390.9L1487.1 391L1488.6 391L1490.1 391.1L1491.6 391.1L1493.1 391.2L1494.6 391.2L1496 391.2L1497.5 391.3L1499 391.3L1500.5 391.3L1502 391.4L1503.5 391.4L1505 391.4L1506.5 391.5L1508 391.5L1509.5 391.6L1511 391.6L1512.5 391.7L1514 391.8L1515.5 391.8L1517 391.9L1518.5 392L1520 392.1L1521.5 392.2L1523 392.3L1524.5 392.3L1526 392.4L1527.5 392.4L1529 392.4L1530.5 392.4L1532 392.3L1533.5 392.2L1535 391.8L1536.5 391.1L1538 390.2L1539.5 389L1541 387.5L1542.5 386L1544 384.5L1545.5 383L1547 381.5L1548.5 380L1550 378.5L1551.5 377L1553 375.5L1554.5 374L1556 372.6L1557.5 371.6L1559 371.1L1560.5 370.7L1562 370.6L1563.5 370.9L1565 371.4L1566.5 372.3L1568 373.4L1569.5 374.8L1571 376.5L1572.5 378.3L1574 380.2L1575.5 382.3L1577 384.7L1578.5 387.4L1580 390.2L1581.5 392.7L1583 394.7L1584.5 396.4L1586 397.8L1587.5 399L1589 400L1590.5 400.9L1592 401.6L1593.5 402.4L1595 403L1596.5 403.6L1598 404.1L1599.5 404.4L1600 404.5" fill="none" stroke="#4688cd" stroke-width="3.65" stroke-linejoin="round"/>
<path d="M1184.2 195.5L1200.8 218.5L1243.8 246L1274.3 280L1308.9 317.5L1336.7 357.5L1367.2 378L1399 392L1406 392.6L1446.2 395.3L1496 398L1551.5 382.7L1558.4 378.6L1576.4 385L1600 400.8" fill="none" stroke="#7f45a3" stroke-width="4.2" stroke-dasharray="4.5 3.1" stroke-linejoin="miter"/></g>
<text transform="translate(1183.90 439.7) scale(1 0.99)" text-anchor="middle" class="t">400</text>
<text transform="translate(1322.50 439.7) scale(1 0.99)" text-anchor="middle" class="t">500</text>
<text transform="translate(1461.10 439.7) scale(1 0.99)" text-anchor="middle" class="t">600</text>
<text transform="translate(1599.70 439.7) scale(1 0.99)" text-anchor="middle" class="t">700</text>
<text transform="translate(1392.20 470.0) scale(1 1.07)" text-anchor="middle" class="l">Wavelength (nm)</text>
<text transform="translate(1122.60 323.6) rotate(-90) scale(1.022 1.04)" class="l">Absorption (m<tspan class="s" dy="-11.6" dx="0.6">-<tspan dx="0.2">1</tspan></tspan><tspan dy="11.6" dx="-1.6">)</tspan></text>
<text x="1105.0" y="24.1" class="p">C</text>
<rect x="1361.6" y="63.3" width="228.2" height="54.4" fill="#fff" stroke="#262626" stroke-width="0.65"/>
<path d="M1367.1 78H1405.4" stroke="#4688cd" stroke-width="3.8" fill="none"/>
<path d="M1367.1 102.5H1405.4" stroke="#7f45a3" stroke-width="4.2" stroke-dasharray="4.5 3.1" fill="none"/>
<text transform="translate(1409.10 84.6) scale(1 1.03)" class="g">Mean measured</text>
<text transform="translate(1409.10 109.3) scale(1 1.03)" class="g">Mean C-OPS GIOP</text></g>
</svg>
</body>
</html>
